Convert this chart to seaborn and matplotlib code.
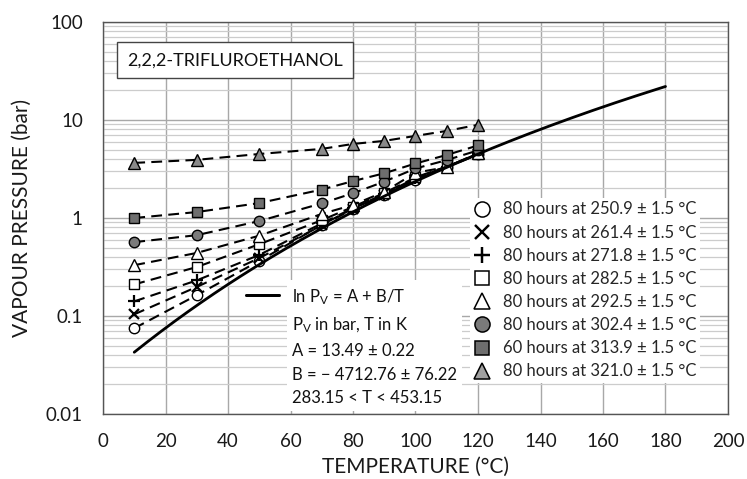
import numpy as np
import pandas as pd
import seaborn as sns
import matplotlib.pyplot as plt
from matplotlib.lines import Line2D
from matplotlib.transforms import IdentityTransform
from matplotlib.ticker import MultipleLocator, LogLocator, NullFormatter

# Measured vapour pressure (bar) at each temperature (°C), one list per aging run
temps = [10, 30, 50, 70, 80, 90, 100, 110, 120]
p_250_9 = [0.075, 0.163, 0.365, 0.85, 1.25, 1.72, 2.45, 3.3, 4.5]
p_261_4 = [0.104, 0.198, 0.39, 0.84, 1.23, 1.72, 2.5, 3.3, 4.45]
p_271_8 = [0.141, 0.231, 0.42, 0.88, 1.26, 1.76, 2.55, 3.35, 4.45]
p_282_5 = [0.21, 0.316, 0.54, 0.95, 1.3, 1.8, 2.6, 3.35, 4.5]
p_292_5 = [0.33, 0.44, 0.66, 1.1, 1.36, 1.85, 2.9, 3.3, 4.6]
p_302_4 = [0.567, 0.668, 0.93, 1.41, 1.79, 2.35, 3.2, 3.9, 4.9]
p_313_9 = [1.0, 1.15, 1.42, 1.95, 2.38, 2.86, 3.6, 4.4, 5.5]
p_321_0 = [3.65, 3.92, 4.5, 5.07, 5.7, 6.12, 6.88, 7.74, 8.93]

series_labels = [
    "80 hours at 250.9 ± 1.5 °C",
    "80 hours at 261.4 ± 1.5 °C",
    "80 hours at 271.8 ± 1.5 °C",
    "80 hours at 282.5 ± 1.5 °C",
    "80 hours at 292.5 ± 1.5 °C",
    "80 hours at 302.4 ± 1.5 °C",
    "60 hours at 313.9 ± 1.5 °C",
    "80 hours at 321.0 ± 1.5 °C",
]
series_values = [p_250_9, p_261_4, p_271_8, p_282_5, p_292_5, p_302_4, p_313_9, p_321_0]

# Antoine-type fit: ln Pv = A + B/T, Pv in bar, T in K
A = 13.49
B = -4712.76
fit_t_min, fit_t_max = 10, 180

# marker, face colour, size, edge width
marker_styles = [
    ("o", "white", 7.5, 1.0),
    ("x", "black", 7, 1.6),
    ("+", "black", 8, 1.6),
    ("s", "white", 7, 1.0),
    ("^", "white", 8, 1.0),
    ("o", "#7a7a7a", 7.5, 1.0),
    ("s", "#6e6e6e", 7, 1.0),
    ("^", "#8a8a8a", 8, 1.0),
]

sns.set_theme(style="white")
plt.rcParams["font.family"] = ["Lato", "DejaVu Sans"]
plt.rcParams["mathtext.fontset"] = "custom"
plt.rcParams["mathtext.rm"] = "Lato"
plt.rcParams["mathtext.it"] = "Lato:italic"

fig = plt.figure(figsize=(7.47, 4.79), dpi=100)
ax = fig.add_axes([103 / 747, 1 - 414 / 479, 625 / 747, 392 / 479])

rows = []
for lab, vals in zip(series_labels, series_values):
    for t, p in zip(temps, vals):
        rows.append({"series": lab, "T": t, "P": p})
df = pd.DataFrame(rows)

for lab, (mk, fc, ms, mew) in zip(series_labels, marker_styles):
    sub = df[df["series"] == lab]
    sns.lineplot(data=sub, x="T", y="P", ax=ax, color="black", lw=1.5,
                 linestyle=(0, (5.2, 3.0)), marker=mk, markersize=ms,
                 markerfacecolor=fc, markeredgecolor="black",
                 markeredgewidth=mew, legend=False, zorder=4)

fit_T = np.linspace(fit_t_min, fit_t_max, 200)
fit_P = np.exp(A + B / (fit_T + 273.15))
sns.lineplot(x=fit_T, y=fit_P, ax=ax, color="black", lw=2.0, legend=False,
             zorder=5)

ax.set_yscale("log")
ax.set_xlim(0, 200)
ax.set_ylim(0.01, 100)
ax.set_xticks(np.arange(0, 201, 20))
ax.xaxis.set_minor_locator(MultipleLocator(4))
ax.set_yticks([0.01, 0.1, 1, 10, 100], labels=["0.01", "0.1", "1", "10", "100"])
ax.yaxis.set_minor_locator(LogLocator(base=10, subs=np.arange(2, 10)))
ax.yaxis.set_minor_formatter(NullFormatter())

ax.xaxis.grid(True, which="major", color="#a8a8a8", lw=1.0)
ax.yaxis.grid(True, which="major", color="#a8a8a8", lw=1.0)
ax.yaxis.grid(True, which="minor", color="#cccccc", lw=0.9)
ax.set_axisbelow(True)

ax.tick_params(axis="both", which="major", labelsize=13.5, colors="#1a1a1a",
               direction="out", length=4.5, width=0.9, color="#888888")
ax.tick_params(axis="y", which="major", pad=10)
ax.tick_params(axis="x", which="major", pad=9)
ax.tick_params(axis="both", which="minor", direction="out", length=3.5,
               width=0.8, color="#999999")
for s in ax.spines.values():
    s.set_color("#555555")
    s.set_linewidth(1.0)

ax.set_xlabel("TEMPERATURE (°C)", fontsize=15, color="#1a1a1a", labelpad=5)
ax.set_ylabel("VAPOUR PRESSURE (bar)", fontsize=15, color="#1a1a1a", labelpad=10)

ax.text(0.211, 0.902, "2,2,2-TRIFLUROETHANOL", transform=ax.transAxes,
        ha="center", va="center", fontsize=13, color="#111111", zorder=6,
        bbox=dict(boxstyle="square,pad=0.55", fc="white", ec="#444444", lw=1.0))

# legend for the aging runs (anchored in pixel coordinates)
handles = [Line2D([], [], ls="none", marker=mk, markersize=ms * 1.45,
                  markerfacecolor=fc, markeredgecolor="black",
                  markeredgewidth=mew * 1.1)
           for (mk, fc, ms, mew) in marker_styles]
handles[7].set_markerfacecolor("#a0a0a0")
leg1 = ax.legend(handles, series_labels, loc="upper left",
                 bbox_to_anchor=(470, 479 - 198), bbox_transform=IdentityTransform(),
                 fontsize=12, frameon=True, facecolor="white", edgecolor="none",
                 fancybox=False, framealpha=1, handlelength=1.0,
                 handletextpad=0.8, labelspacing=0.43, borderpad=0.2,
                 borderaxespad=0)
leg1.set_zorder(7)
ax.add_artist(leg1)

# fitted-curve key: line sample plus the equation block
leg2 = ax.legend([Line2D([], [], color="black", lw=2.0)], [" "],
                 loc="center left", bbox_to_anchor=(246, 479 - 296),
                 bbox_transform=IdentityTransform(), fontsize=12,
                 frameon=False, handlelength=2.0, handletextpad=0.0,
                 borderpad=0.0, borderaxespad=0)
leg2.set_zorder(7)
ax.add_artist(leg2)

fit_text = "\n".join([r"ln P$_\mathregular{V}$ = A + B/T",
                      r"P$_\mathregular{V}$ in bar, T in K",
                      f"A = {A:.2f} ± 0.22",
                      f"B = − {abs(B):.2f} ± 76.22",
                      "283.15 < T < 453.15"])
fig.text(292 / 747, 1 - 287 / 479, fit_text, ha="left", va="top",
         fontsize=12, color="#111111", linespacing=1.6, zorder=7,
         bbox=dict(boxstyle="square,pad=0.3", fc="white", ec="none"))

fig.savefig("out.png", dpi=100)
